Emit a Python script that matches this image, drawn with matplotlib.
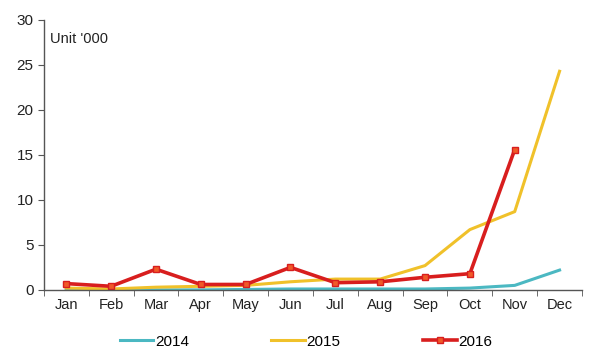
import numpy as np
import matplotlib
matplotlib.use('Agg')
import matplotlib.pyplot as plt

plt.rcParams['font.family'] = ['Liberation Sans', 'DejaVu Sans']

months = ['Jan', 'Feb', 'Mar', 'Apr', 'May', 'Jun', 'Jul', 'Aug', 'Sep', 'Oct', 'Nov', 'Dec']
y2014 = [0.0, 0.0, 0.0, 0.0, 0.05, 0.1, 0.1, 0.1, 0.1, 0.2, 0.5, 2.2]
y2015 = [0.2, 0.1, 0.3, 0.4, 0.5, 0.9, 1.2, 1.2, 2.7, 6.7, 8.7, 24.3]
y2016 = [0.7, 0.4, 2.3, 0.6, 0.6, 2.5, 0.8, 0.9, 1.4, 1.8, 15.6]

fig = plt.figure(figsize=(6, 3.57), dpi=100)
ax = fig.add_axes([0.073, 0.188, 0.897, 0.756])

x = np.arange(len(months))
ax.plot(x, y2014, color='#4bb8c2', lw=2.2, label='2014')
ax.plot(x, y2015, color='#f0c12a', lw=2.2, label='2015')
ax.plot(x[:len(y2016)], y2016, color='#d81e1e', lw=2.6, marker='s', ms=4.5,
        mfc='#f05a28', mec='#d81e1e', mew=1, label='2016')

ax.set_xlim(-0.5, 11.5)
ax.set_ylim(0, 30)
ax.set_yticks([0, 5, 10, 15, 20, 25, 30])
ax.set_xticks(x)
ax.set_xticklabels(months)
ax.set_xticks(np.arange(-0.5, 12, 1), minor=True)
ax.tick_params(axis='x', which='major', length=0, pad=6, labelsize=10.5, colors='#222222')
ax.tick_params(axis='x', which='minor', length=4, color='#555555', direction='out')
ax.tick_params(axis='y', length=4, color='#555555', labelsize=11, colors='#222222')
for s in ['top', 'right']:
    ax.spines[s].set_visible(False)
for s in ['left', 'bottom']:
    ax.spines[s].set_color('#555555')
    ax.spines[s].set_linewidth(1)

ax.text(0.012, 0.955, "Unit '000", transform=ax.transAxes, fontsize=10.5,
        va='top', ha='left', color='#222222')

fig.legend(loc='lower center', bbox_to_anchor=(0.51, -0.015), ncol=3, frameon=False,
           fontsize=11, columnspacing=5.4, handlelength=2.2, handletextpad=0.1)

fig.savefig('out.png', dpi=100)
